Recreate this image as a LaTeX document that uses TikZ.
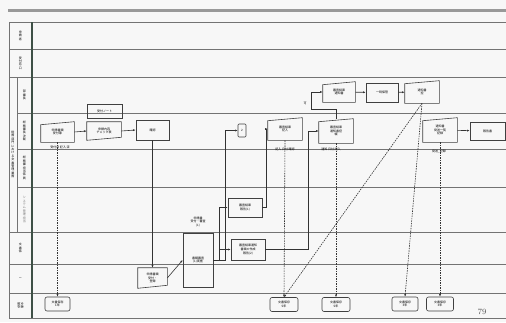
\documentclass[tikz,border=0pt]{standalone}
\usepackage{fontspec}
\newfontfamily\jpfont{Noto Sans CJK JP}
\usetikzlibrary{arrows.meta}

\definecolor{divider}{RGB}{62,80,70}

% outlines for the slanted boxes
\newcommand\maninput[1]{\draw[ink] (#1.south west) -- (#1.south east) -- (#1.north east) -- ([yshift=-3pt]#1.north west) -- cycle;}
\newcommand\docshape[1]{\draw[ink] (#1.north west) -- (#1.north east) -- ([yshift=3pt]#1.south east) -- (#1.south west) -- cycle;}

\begin{document}
\begin{tikzpicture}[
  x=1pt, y=-1pt,
  font=\jpfont\fontsize{3}{3.7}\selectfont,
  ink/.style={draw=black!75, line width=0.6pt},
  box/.style={ink, align=center, inner sep=0pt, minimum width=33pt, minimum height=20pt},
  slant/.style={box, draw=none},
  store/.style={box, rounded corners=2pt, minimum width=27pt, minimum height=14pt},
  lane/.style={draw=black!55, line width=0.7pt},
  arrow/.style={-{Latex[length=2.5pt,width=2pt]}, line width=0.6pt, draw=black!80},
  flow/.style={arrow, dash pattern=on 1.5pt off 1pt},
  hdr/.style={align=center, inner sep=0pt, font=\jpfont\fontsize{3}{3.4}\selectfont},
  note/.style={align=center, inner sep=0pt}
]
\useasboundingbox (0,0) rectangle (506,322);
\fill[black!3] (0,0) rectangle (506,322);

% page rule and lanes
\draw[line width=3pt, black!40] (8,10) -- (506,10);
\foreach \y in {22,49,77,232,264,293,318}
  \draw[lane] (9,\y) -- (506,\y);
\foreach \y in {113,149,187}
  \draw[lane] (17,\y) -- (506,\y);
\draw[lane] (9,22) -- (9,318);
\draw[lane] (17,77) -- (17,232);
\draw[line width=1.2pt, divider] (32,22) -- (32,318);

% lane headers
\node[hdr] (h1) at (20.5,35.5) {申\\請\\者};
\node[hdr] (h2) at (20.5,63) {受\\付\\窓\\口};
\node[hdr] (h3) at (24.5,95) {部\\課\\長};
\node[hdr] (hg) at (13,154.5) {総\\務\\部\\門\\に\\お\\け\\る\\文\\書\\管\\理\\業\\務};
\node[hdr] (h4) at (24.5,131) {総\\務\\課\\長\\決\\裁};
\node[hdr] (h5) at (24.5,168) {総\\務\\課\\担\\当\\係\\員};
\node[hdr, text=black!55] (h6) at (24.5,209.5) {シ\\ス\\テ\\ム\\管\\理\\担\\当};
\node[hdr] (h7) at (20.5,248) {文\\書\\係};
\node[hdr] (h8) at (20.5,278.5) {ー};
\node[hdr, rotate=-90] (h9) at (20.5,305.5) {文書\\保存};

% row 3
\node[slant, minimum width=32pt, minimum height=20pt] (notice) at (339,92) {審査結果\\通知書};
\node[box, minimum width=32pt, minimum height=19pt] (hold) at (382,92.5) {一時保管};
\node[slant, minimum width=34pt, minimum height=22pt] (file) at (422,92) {通知書\\控};

% row 4
\node[slant] (apply) at (57.5,132) {申請書類\\受付簿};
\node[box, minimum width=35pt, minimum height=14pt] (memo) at (104.5,111) {受付ノート};
\node[slant, minimum width=34pt, minimum height=18pt] (check) at (104,131) {申請内容\\チェック表};
\node[box] (confirm) at (152.5,130) {確認};
\node[box, minimum width=8pt, minimum height=13pt, rounded corners=1pt] (link) at (242,130.5) {2};
\node[slant, minimum width=34pt, minimum height=22pt] (review) at (285,129) {審査結果\\記入};
\node[slant, minimum width=34pt, minimum height=24pt] (copy) at (336,131) {審査結果\\通知書控\\綴};
\node[slant, minimum width=34pt, minimum height=24pt] (ship) at (440,130) {通知書\\発送一覧\\記録};
\node[box, minimum width=35pt, minimum height=18pt] (report) at (487.5,131) {報告書};

% rows 6 to 8
\node[box, minimum width=34pt, minimum height=19pt] (rep1) at (245,207.5) {審査結果\\報告(1)};
\node[box, minimum width=34pt, minimum height=21pt] (rep2) at (248,249.5) {審査結果通知\\書類の作成\\報告(2)};
\node[box, minimum width=30pt, minimum height=54pt] (exam) at (198,260) {書類審査\\(1)実施};
\node[note] (examnote) at (198,222) {申請書\\受付・審査\\(1)};
\node[slant, minimum width=29pt, minimum height=20pt] (entry) at (152.5,278) {申請書類\\受付・\\登録};

% row 9
\node[store, minimum width=25pt] (st1) at (57.5,304) {文書保存\\1年};
\node[store, minimum width=28pt] (st2) at (284,304.5) {文書保存\\5年};
\node[store, minimum width=28pt] (st3) at (336,304.5) {文書保存\\5年};
\node[store, minimum width=26pt] (st4) at (405,304) {文書保存\\3年};
\node[store, minimum width=27pt] (st5) at (440,304) {文書保存\\3年};

\maninput{notice}
\maninput{file}
\maninput{apply}
\docshape{check}
\maninput{review}
\maninput{copy}
\maninput{ship}
\docshape{entry}

% small notes on the lane line
\node[note] (n1) at (60,147.5) {受付日 記入 済};
\node[note] (n2) at (285,149) {記入 日付 確認};
\node[note] (n3) at (331,149) {通知 日付 記入};
\node[note] (n4) at (439,151) {発送\_記録};
\node[note] (n5) at (305,103) {可};

% connectors
\draw[arrow] (apply.east) -- (check.west);
\draw[arrow] (check.east) -- (confirm.west);
\draw[arrow] (confirm.south) -- (entry.north);
\draw[arrow] (entry.east) -- (exam.west);
\draw[arrow] (exam.east) -- ++(6,0) |- (rep1.west);
\draw[arrow] (exam.east) -- ++(6,0) |- (rep2.west);
\draw[arrow] (exam.east) -- ++(12,0) |- (link.west);
\draw[arrow] (rep1.east) -- ++(4,0) |- (review.west);
\draw[arrow] (rep2.east) -- ++(43,0) |- (copy.west);
\draw[arrow] (copy.north) -- ++(0,-9) -| ([xshift=-11pt]notice.west) -- (notice.west);
\draw[arrow] (notice) -- (hold);
\draw[arrow] (hold) -- (file);
\draw[arrow] (ship) -- (report);

% filing flows
\draw[flow] (apply.south) -- (st1.north);
\draw[flow] (review.south) -- (st2.north);
\draw[flow] (file.south) -- (st2.north);
\draw[flow] (file.south) -- (st4.north);
\draw[flow] (copy.south) -- (st3.north);
\draw[flow] (ship.south) -- (st5.north);

\node[font=\fontsize{8}{8}\selectfont, text=black!70] (page) at (482,312) {79};
\end{tikzpicture}
\end{document}
